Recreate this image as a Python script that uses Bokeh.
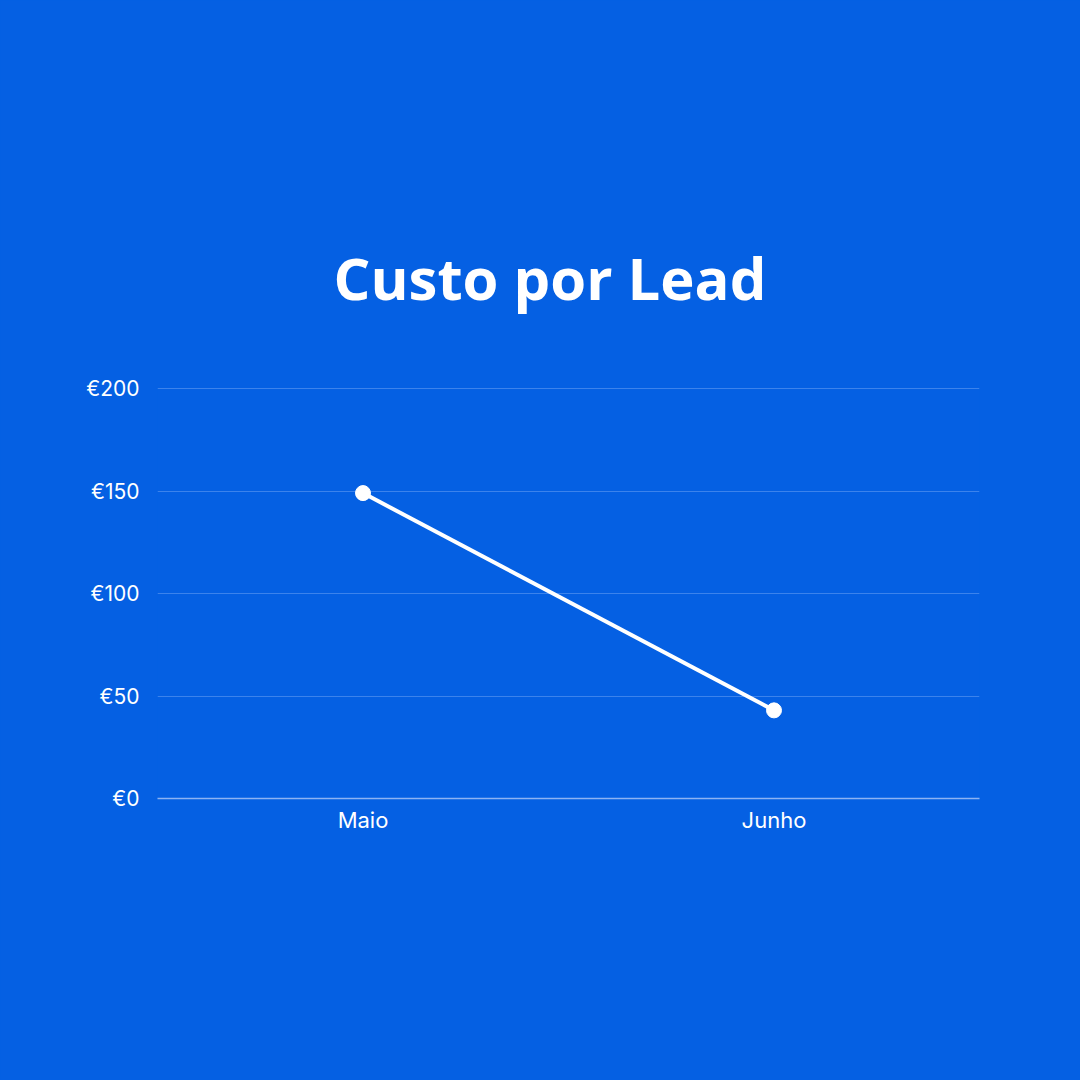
from bokeh.plotting import figure
from bokeh.models import Range1d, Title, FactorRange
from bokeh.embed import file_html
from bokeh.resources import INLINE

months = ["Maio", "Junho"]
cost = [149, 43]
y_ticks = [0, 50, 100, 150, 200]
y_labels = ["€0", "€50", "€100", "€150", "€200"]
title_text = "Custo por Lead"

BG = "#0560E3"

p = figure(width=1080, height=1080, x_range=FactorRange(*months, range_padding=0),
           y_range=Range1d(0, 201), output_backend="svg", toolbar_location=None,
           min_border_left=157, min_border_right=101, min_border_top=386, min_border_bottom=282,
           title=None)
p.background_fill_color = BG
p.border_fill_color = BG
p.outline_line_color = None
p.styles = {"background-color": BG}

p.line(months, cost, line_color="white", line_width=4)
p.scatter(months, cost, size=15, fill_color="white", line_color="white")

p.yaxis.ticker = y_ticks
p.yaxis.major_label_overrides = {t: l for t, l in zip(y_ticks, y_labels)}
p.yaxis.axis_line_color = None
p.yaxis.major_tick_line_color = None
p.yaxis.minor_tick_line_color = None
p.yaxis.major_label_text_color = "white"
p.yaxis.major_label_text_font = "Inter"
p.yaxis.major_label_text_font_size = "21px"
p.yaxis.major_label_standoff = 12

p.xaxis.axis_line_color = "#8DB3F3"
p.xaxis.axis_line_width = 1.5
p.xaxis.major_tick_line_color = None
p.xaxis.minor_tick_line_color = None
p.xaxis.major_label_text_color = "white"
p.xaxis.major_label_text_font = "Inter"
p.xaxis.major_label_text_font_size = "22px"
p.xaxis.major_label_standoff = 2

p.xgrid.grid_line_color = None
p.ygrid.ticker = y_ticks
p.ygrid.grid_line_color = "#3C83EC"
p.ygrid.grid_line_width = 1

title = Title(text=title_text, align="left", offset=176, standoff=139,
              text_color="white", text_font="Open Sans", text_font_style="bold",
              text_font_size="58px")
p.add_layout(title, "above")

html = file_html(p, INLINE)
html = html.replace("<body>", '<body style="margin:0;background:%s">' % BG, 1)
open("out.html", "w").write(html)
